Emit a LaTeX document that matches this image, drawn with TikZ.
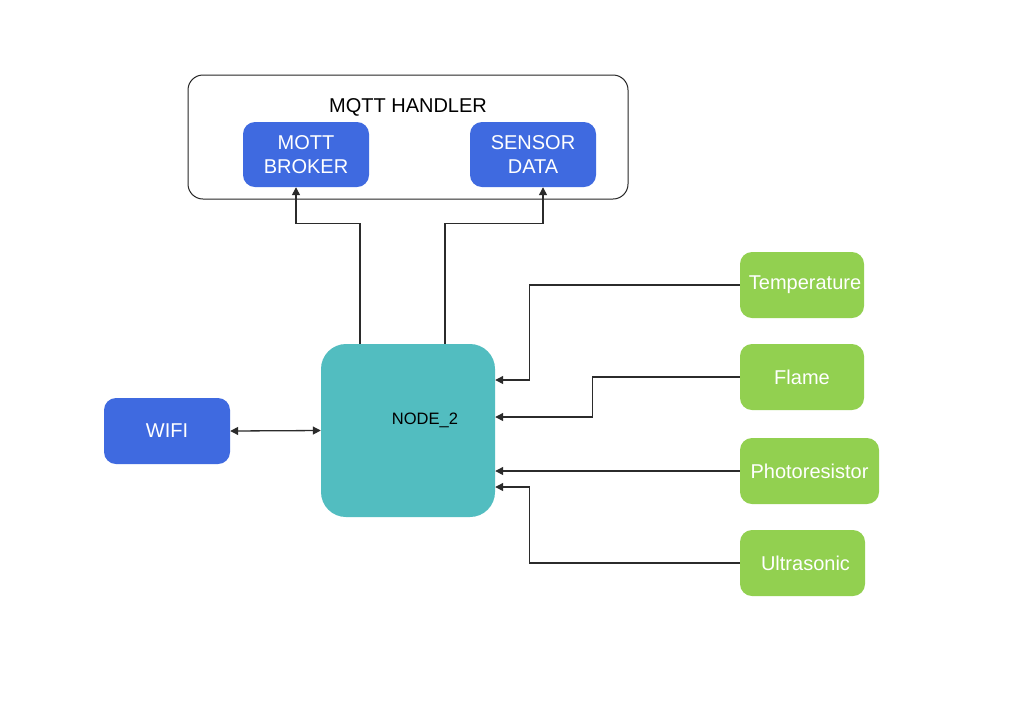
\documentclass[tikz,border=0pt]{standalone}
\usepackage{fontspec}
\setmainfont{Liberation Sans}
\usetikzlibrary{arrows.meta}
\definecolor{bluebox}{HTML}{3F6AE0}
\definecolor{tealbox}{HTML}{52BDC0}
\definecolor{greenbox}{HTML}{92D050}
\definecolor{lineclr}{HTML}{2B2B2B}
\begin{document}
\begin{tikzpicture}[x=1pt,y=-1pt,
  box/.style={rectangle, rounded corners=12pt, draw=none, inner sep=0pt, align=center,
    font=\fontsize{20}{24}\selectfont, text=white},
  bluen/.style={box, fill=bluebox},
  greenn/.style={box, fill=greenbox, minimum width=124pt, minimum height=66pt},
  conn/.style={draw=lineclr, line width=1.3pt, -{Triangle[length=8pt,width=8pt]}},
  biconn/.style={draw=lineclr, line width=1.3pt, {Triangle[length=8pt,width=8pt]}-{Triangle[length=8pt,width=8pt]}}
]
\useasboundingbox (0,0) rectangle (1024,716);
\fill[white] (0,0) rectangle (1024,716);

% container
\node[draw=black!85, line width=1pt, rounded corners=15pt, minimum width=440pt, minimum height=124pt, inner sep=0pt] (handler) at (408,137) {};
\node[font=\fontsize{20}{24}\selectfont, anchor=base] (htitle) at (408,112) {MQTT HANDLER};

\node[bluen, minimum width=126pt, minimum height=65pt] (broker) at (306,154.5) {MOTT\\BROKER};
\node[bluen, minimum width=126pt, minimum height=65pt] (sensor) at (533,154.5) {SENSOR\\DATA};

\node[rectangle, rounded corners=25pt, fill=tealbox, minimum width=174pt, minimum height=173pt, inner sep=0pt] (node2) at (408,430.5) {};
\node[font=\fontsize{16.5}{20}\selectfont, anchor=base] (n2label) at (425,424) {NODE\_2};

\node[bluen, minimum width=126pt, minimum height=66pt] (wifi) at (167,431) {WIFI};

\node[greenn] (temp) at (802,285) {\hspace*{6pt}Temperature};
\node[greenn] (flame) at (802,377) {Flame};
\node[greenn, minimum width=139pt] (photo) at (809.5,471) {Photoresistor};
\node[greenn, minimum width=125pt] (ultra) at (802.5,563) {\hspace*{6pt}Ultrasonic};

% connectors
\draw[conn] ([xshift=-48pt]node2.north) -- ++(0,-120) -| ([xshift=-10pt]broker.south);
\draw[conn] ([xshift=37pt]node2.north) -- ++(0,-120) -| ([xshift=10pt]sensor.south);
\draw[biconn] (wifi.east) -- (node2.west);
\draw[conn] (temp.west) -- ++(-210,0) |- ([yshift=50.5pt]node2.east);
\draw[conn] (flame.west) -- ++(-147,0) |- ([yshift=13.5pt]node2.east);
\draw[conn] (photo.west) -- ([yshift=-40.5pt]node2.east);
\draw[conn] (ultra.west) -- ++(-210,0) |- ([yshift=-56.5pt]node2.east);
\end{tikzpicture}
\end{document}
